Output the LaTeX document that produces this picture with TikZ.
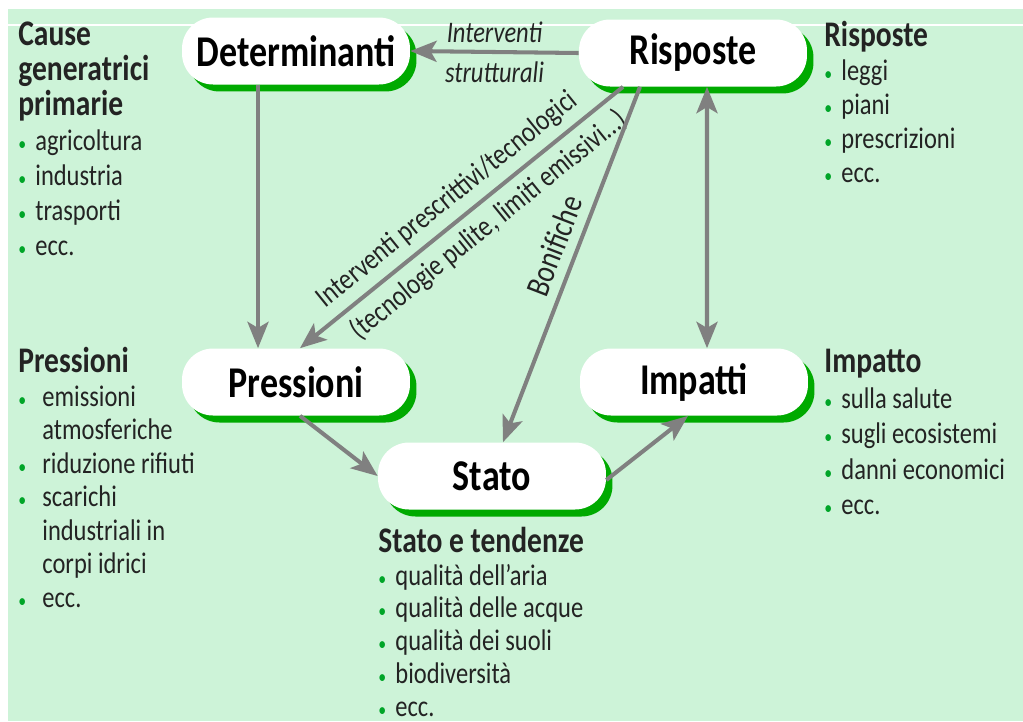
\documentclass[tikz,border=0pt]{standalone}
\usepackage{fontspec}
\setmainfont{Carlito}[FakeStretch=0.82]
\usetikzlibrary{arrows.meta,shadows}
\definecolor{bggreen}{RGB}{205,243,216}
\definecolor{shadegreen}{RGB}{0,170,0}
\definecolor{arrowgray}{RGB}{128,128,128}
\definecolor{dotgreen}{RGB}{0,165,40}
\definecolor{inkgray}{RGB}{35,35,35}
\newcommand{\dotitem}[1]{\makebox[9.7pt][l]{\textcolor{dotgreen}{\fontsize{11}{11}\selectfont\textbullet}}#1}
\newcommand{\dotwide}[1]{\makebox[13.7pt][l]{\textcolor{dotgreen}{\fontsize{11}{11}\selectfont\textbullet}}#1}
\newcommand{\dotcont}[1]{\hspace*{13.7pt}#1}
\newcommand{\listhead}[1]{{\fontsize{20.5}{19}\selectfont\bfseries #1}}
\tikzset{
  stage/.style={fill=white,rounded corners=0.62cm,minimum width=4.56cm,minimum height=1.34cm,
    font=\fontsize{25}{25}\selectfont\bfseries,
    drop shadow={shadow xshift=0.13cm,shadow yshift=-0.14cm,fill=shadegreen,opacity=1}},
  flow/.style={arrowgray,line width=2.3pt,-{Stealth[length=15pt,width=12pt,inset=3.5pt]}},
  flowtext/.style={text=inkgray,font=\fontsize{17}{17}\selectfont},
  sidelist/.style={anchor=north west,align=left,inner sep=0pt,text=inkgray,font=\fontsize{17}{19.9}\selectfont},
}
\begin{document}
\begin{tikzpicture}[x=0.02cm,y=-0.02cm]
    \useasboundingbox (0,0) rectangle (1023,721);
    %% Background
    \fill[bggreen] (8,9) rectangle (1023,721);
    \draw[white,line width=0.6pt] (8,25) -- (1023,25);
    %% stages
    \node[stage] (Det) at (296,51) {Determinanti};
    \node[stage] (Ris) at (693,53) {Risposte};
    \node[stage] (Pre) at (296,382) {Pressioni};
    \node[stage] (Sta) at (492,476) {Stato};
    \node[stage] (Imp) at (694,382) {Impatti};
    %% connectors
    \draw[flow] (Ris.west) -- (Det.east)
        node[pos=0.5,above=1pt,flowtext,font=\fontsize{17}{17}\selectfont\itshape] {Interventi}
        node[pos=0.5,below=1pt,flowtext,font=\fontsize{17}{17}\selectfont\itshape] {strutturali};
    \draw[flow] ([xshift=-0.76cm]Det.south) -- ([xshift=-0.76cm]Pre.north);
    \draw[flow] ([xshift=-1.4cm]Ris.south) -- ([xshift=0.08cm]Pre.north)
        node[pos=0.5,sloped,above=1pt,flowtext] {Interventi prescrittivi/tecnologici}
        node[pos=0.46,sloped,below=1pt,flowtext] {(tecnologie pulite, limiti emissivi...)};
    \draw[flow] ([xshift=-1.06cm]Ris.south) -- ([xshift=0.22cm]Sta.north)
        node[pos=0.47,sloped,above=2pt,flowtext,font=\fontsize{19}{19}\selectfont] {Bonifiche};
    \draw[flow,{Stealth[length=15pt,width=12pt,inset=3.5pt]}-{Stealth[length=15pt,width=12pt,inset=3.5pt]}]
        ([xshift=0.28cm]Ris.south) -- ([xshift=0.26cm]Imp.north);
    \draw[flow] ([xshift=0.08cm]Pre.south) -- (Sta.west);
    \draw[flow] ([yshift=-0.08cm]Sta.east) -- ([xshift=-0.12cm]Imp.south);
    %% side lists
    \node[sidelist] (causeList) at (18,22) {\listhead{Cause}\\\listhead{generatrici}\\\listhead{primarie}\\
        \dotitem{agricoltura}\\\dotitem{industria}\\\dotitem{trasporti}\\\dotitem{ecc.}};
    \node[sidelist,font=\fontsize{17}{19.1}\selectfont] (preList) at (18,347) {\listhead{Pressioni}\\
        \dotwide{emissioni}\\\dotcont{atmosferiche}\\\dotwide{riduzione rifiuti}\\
        \dotwide{scarichi}\\\dotcont{industriali in}\\\dotcont{corpi idrici}\\\dotwide{ecc.}};
    \node[sidelist,font=\fontsize{17}{19.3}\selectfont] (risList) at (824,21) {\listhead{Risposte}\\
        \dotitem{leggi}\\\dotitem{piani}\\\dotitem{prescrizioni}\\\dotitem{ecc.}};
    \node[sidelist,font=\fontsize{17}{20.2}\selectfont] (impList) at (824,349) {\listhead{Impatto}\\
        \dotitem{sulla salute}\\\dotitem{sugli ecosistemi}\\\dotitem{danni economici}\\\dotitem{ecc.}};
    \node[sidelist,font=\fontsize{17}{18.6}\selectfont] (staList) at (378,527) {\listhead{Stato e tendenze}\\
        \dotitem{qualità dell’aria}\\\dotitem{qualità delle acque}\\\dotitem{qualità dei suoli}\\
        \dotitem{biodiversità}\\\dotitem{ecc.}};
\end{tikzpicture}
\end{document}
